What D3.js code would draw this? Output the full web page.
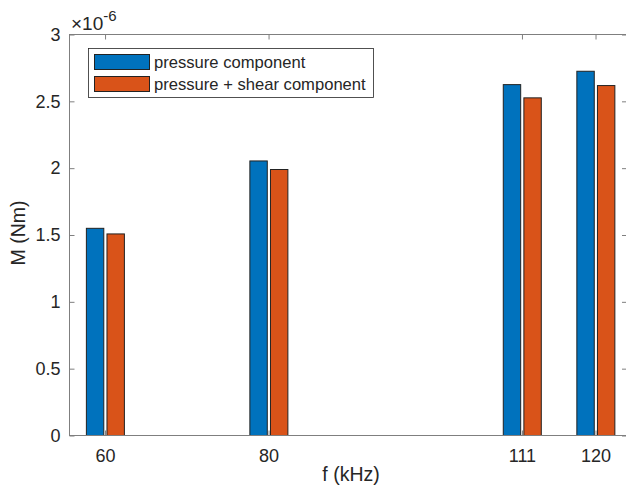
<!DOCTYPE html>
<html>
<head>
<meta charset="utf-8">
<script src="https://cdn.jsdelivr.net/npm/d3@7"></script>
<style>
  body { margin: 0; background: #fff; }
  svg text { font-family: "Liberation Sans", Arial, sans-serif; fill: #262626; }
</style>
</head>
<body>
<svg id="chart" width="626" height="492"></svg>
<script>
// data
const freqs = [60, 80, 111, 120];
const pressure = [1.55, 2.054, 2.625, 2.725];        // x 1e-6 Nm
const pressureShear = [1.508, 1.99, 2.526, 2.618];   // x 1e-6 Nm
const seriesNames = ["pressure component", "pressure + shear component"];
const colors = ["#0072BD", "#D95319"];
const yTicks = [0, 0.5, 1, 1.5, 2, 2.5, 3];

const svg = d3.select("#chart");
const plotL = 69.5, plotR = 627, plotT = 34.5, plotB = 435.5;
const axisColor = "#7f7f7f";

const x = d3.scaleLinear().domain([55.65, 123.85]).range([plotL, plotR]);
const y = d3.scaleLinear().domain([0, 3]).range([plotB, plotT]);

// grouped bars, offsets in kHz
const barW = 2.13, offs = [-1.22, 1.3];
const series = [pressure, pressureShear];
series.forEach((vals, i) => {
  svg.append("g").selectAll("rect")
    .data(vals)
    .enter()
    .append("rect")
    .attr("x", (d, j) => x(freqs[j] + offs[i] - barW / 2))
    .attr("y", d => y(d))
    .attr("width", x(barW) - x(0))
    .attr("height", d => y(0) - y(d))
    .attr("fill", colors[i])
    .attr("stroke", "#222")
    .attr("stroke-width", 1);
});

// axes box
svg.append("rect")
  .attr("x", plotL).attr("y", plotT)
  .attr("width", plotR - plotL).attr("height", plotB - plotT)
  .attr("fill", "none").attr("stroke", axisColor).attr("stroke-width", 1);

// x axis ticks (bottom and top, inward)
const xAx = svg.append("g").attr("transform", `translate(0,${plotB})`)
  .call(d3.axisBottom(x).tickValues(freqs).tickSize(-5).tickPadding(14));
xAx.select(".domain").remove();
xAx.selectAll("line").attr("stroke", axisColor);
xAx.selectAll("text").style("font-size", "18px").attr("fill", "#262626");
const xTop = svg.append("g").attr("transform", `translate(0,${plotT})`)
  .call(d3.axisTop(x).tickValues(freqs).tickSize(-5).tickFormat(""));
xTop.select(".domain").remove();
xTop.selectAll("line").attr("stroke", axisColor);

// y axis ticks (left and right, inward)
const yAx = svg.append("g").attr("transform", `translate(${plotL},0)`)
  .call(d3.axisLeft(y).tickValues(yTicks).tickSize(-5).tickPadding(9).tickFormat(d3.format("")));
yAx.select(".domain").remove();
yAx.selectAll("line").attr("stroke", axisColor);
yAx.selectAll("text").style("font-size", "18px").attr("fill", "#262626");
const yRight = svg.append("g").attr("transform", `translate(${plotR},0)`)
  .call(d3.axisRight(y).tickValues(yTicks).tickSize(-5).tickFormat(""));
yRight.select(".domain").remove();
yRight.selectAll("line").attr("stroke", axisColor);

// exponent label
const ex = svg.append("text").attr("x", 71).attr("y", 29.5).style("font-size", "19px");
ex.append("tspan").text("\u00d710");
ex.append("tspan").attr("dy", -9).style("font-size", "15px").text("-6");

// axis labels
svg.append("text").attr("x", 351).attr("y", 481)
  .attr("text-anchor", "middle").style("font-size", "19.5px").text("f (kHz)");
svg.append("text")
  .attr("transform", `translate(25,233) rotate(-90)`)
  .attr("text-anchor", "middle").style("font-size", "19.5px").text("M (Nm)");

// legend
const lg = svg.append("g");
lg.append("rect").attr("x", 88.5).attr("y", 48.5).attr("width", 285).attr("height", 49)
  .attr("fill", "#fff").attr("stroke", "#262626").attr("stroke-width", 0.8);
seriesNames.forEach((name, i) => {
  lg.append("rect").attr("x", 94.5).attr("y", 54.5 + i * 22).attr("width", 55).attr("height", 15)
    .attr("fill", colors[i]).attr("stroke", "#222");
  lg.append("text").attr("x", 154).attr("y", 68 + i * 22)
    .style("font-size", "16.6px").text(name);
});
</script>
</body>
</html>
